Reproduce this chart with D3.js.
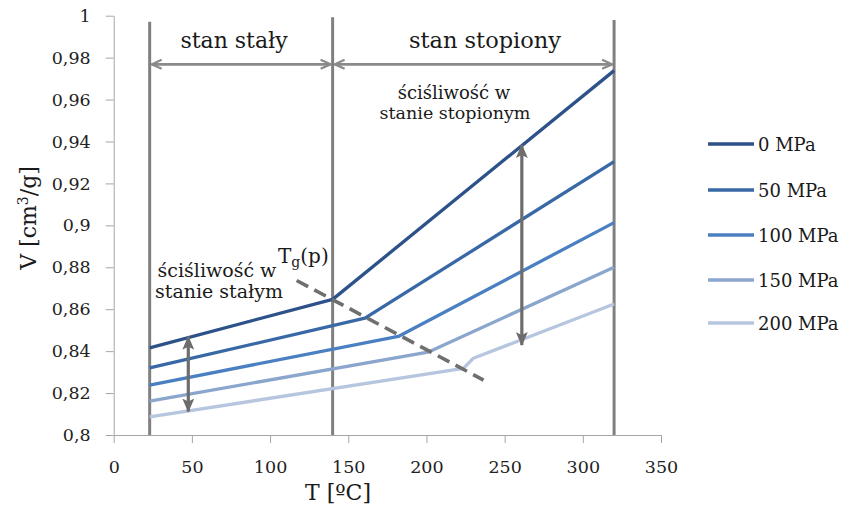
<!DOCTYPE html>
<html>
<head>
<meta charset="utf-8">
<script src="https://cdn.jsdelivr.net/npm/d3@7"></script>
<style>
  body { margin: 0; background: #fff; }
  svg { display: block; font-family: "DejaVu Serif", serif; }
  .axis path, .axis line { stroke: #a6a6a6; stroke-width: 1; }
  .axis text { fill: #222; font-size: 17.5px; font-family: "DejaVu Serif", serif; }
</style>
</head>
<body>
<script>
// pressure series
var seriesNames = ["0 MPa", "50 MPa", "100 MPa", "150 MPa", "200 MPa"];
var seriesColors = ["#2d5289", "#3868a5", "#4a80c2", "#8aa6cc", "#b6c6df"];

// T [C] and V [cm3/g] for each pressure
var temp0 = [23, 140, 320];
var vol0 = [0.8416, 0.8647, 0.9738];
var temp50 = [23, 160.7, 320];
var vol50 = [0.8320, 0.8557, 0.9304];
var temp100 = [23, 182, 320];
var vol100 = [0.8238, 0.8470, 0.9013];
var temp150 = [23, 201, 320];
var vol150 = [0.8162, 0.8395, 0.8800];
var temp200 = [23, 223.6, 230, 320];
var vol200 = [0.8086, 0.8318, 0.8366, 0.8625];

var xTicks = [0, 50, 100, 150, 200, 250, 300, 350];
var yTicks = [0.8, 0.82, 0.84, 0.86, 0.88, 0.9, 0.92, 0.94, 0.96, 0.98, 1];

// state boundaries (T) and the Tg(p) dashed line
var boundaries = [23, 140, 320];
var tgTemp = [117, 236.5];
var tgVol = [0.8737, 0.8262];

// compressibility arrows: [T, Vtop, Vbottom]
var compSolid = [47.7, 0.8469, 0.8112];
var compMelt = [261, 0.9383, 0.8429];
var stateArrowV = 0.9768;

var w = 851, h = 508;
var svg = d3.select("body").append("svg").attr("width", w).attr("height", h);

var x = d3.scaleLinear().domain([0, 350]).range([113.7, 661]);
var y = d3.scaleLinear().domain([0.8, 1]).range([435, 15.7]);

function fmt(v) { return String(+v.toFixed(2)).replace(".", ","); }

svg.append("g").attr("class", "axis")
  .attr("transform", "translate(" + x(0) + ",0)")
  .call(d3.axisLeft(y).tickValues(yTicks).tickFormat(fmt).tickSize(8).tickPadding(15).tickSizeOuter(0));

svg.append("g").attr("class", "axis")
  .attr("transform", "translate(0," + y(0.8) + ")")
  .call(d3.axisBottom(x).tickValues(xTicks).tickSize(8).tickPadding(18).tickSizeOuter(0));

// vertical boundary lines
var vTop = [21.7, 17.3, 20];
svg.selectAll(".bound").data(boundaries).enter().append("line")
  .attr("x1", function(d) { return x(d); }).attr("x2", function(d) { return x(d); })
  .attr("y1", function(d, i) { return vTop[i]; }).attr("y2", y(0.8))
  .attr("stroke", "#808080").attr("stroke-width", 3);

// series lines
var allTemps = [temp0, temp50, temp100, temp150, temp200];
var allVols = [vol0, vol50, vol100, vol150, vol200];
var line = d3.line().x(function(d) { return x(d[0]); }).y(function(d) { return y(d[1]); });

seriesNames.forEach(function(name, i) {
  var pts = allTemps[i].map(function(t, j) { return [t, allVols[i][j]]; });
  svg.append("path").datum(pts)
    .attr("d", line)
    .attr("fill", "none")
    .attr("stroke", seriesColors[i])
    .attr("stroke-width", 3.3)
    .attr("stroke-linejoin", "round");
});

// Tg(p) dashed line
svg.append("line")
  .attr("x1", x(tgTemp[0])).attr("y1", y(tgVol[0]))
  .attr("x2", x(tgTemp[1])).attr("y2", y(tgVol[1]))
  .attr("stroke", "#6f6f6f").attr("stroke-width", 3.6)
  .attr("stroke-dasharray", "13,7");

// arrowheads
var defs = svg.append("defs");
defs.append("marker").attr("id", "open").attr("viewBox", "0 0 12 12")
  .attr("refX", 11).attr("refY", 6).attr("markerWidth", 12).attr("markerHeight", 12)
  .attr("markerUnits", "userSpaceOnUse").attr("orient", "auto-start-reverse")
  .append("path").attr("d", "M1,1.5L11,6L1,10.5")
  .attr("fill", "none").attr("stroke", "#8a8a8a").attr("stroke-width", 2.2);
defs.append("marker").attr("id", "solid").attr("viewBox", "0 0 14 12")
  .attr("refX", 13).attr("refY", 6).attr("markerWidth", 14).attr("markerHeight", 12)
  .attr("markerUnits", "userSpaceOnUse").attr("orient", "auto-start-reverse")
  .append("path").attr("d", "M0,0L14,6L0,12L3,6Z").attr("fill", "#6d6d6d");

// state arrows at the top
[[boundaries[0], boundaries[1]], [boundaries[1], boundaries[2]]].forEach(function(seg) {
  svg.append("line")
    .attr("x1", x(seg[0]) + 2).attr("x2", x(seg[1]) - 2)
    .attr("y1", y(stateArrowV)).attr("y2", y(stateArrowV))
    .attr("stroke", "#8a8a8a").attr("stroke-width", 2.6)
    .attr("marker-start", "url(#open)").attr("marker-end", "url(#open)");
});

// compressibility arrows
[compSolid, compMelt].forEach(function(a) {
  svg.append("line")
    .attr("x1", x(a[0])).attr("x2", x(a[0]))
    .attr("y1", y(a[1])).attr("y2", y(a[2]))
    .attr("stroke", "#6d6d6d").attr("stroke-width", 3.2)
    .attr("marker-start", "url(#solid)").attr("marker-end", "url(#solid)");
});

// labels
function label(txt, cx, cy, size, anchor) {
  return svg.append("text").attr("x", cx).attr("y", cy)
    .attr("text-anchor", anchor || "middle").attr("dominant-baseline", "central")
    .attr("font-size", size).attr("fill", "#1a1a1a").text(txt);
}
label("stan stały", 234, 40, 22);
label("stan stopiony", 485, 40, 22.5);
label("ściśliwość w", 454, 92, 18);
label("stanie stopionym", 455, 113, 17.5);
label("ściśliwość w", 217, 270, 19);
label("stanie stałym", 219, 291, 19);

var tg = svg.append("text").attr("x", 278).attr("y", 263).attr("font-size", 20).attr("fill", "#1a1a1a");
tg.append("tspan").text("T");
tg.append("tspan").attr("font-size", 14).attr("dy", 4).text("g");
tg.append("tspan").attr("dy", -4).text("(p)");

// axis titles
var yt = svg.append("text").attr("transform", "translate(36,218) rotate(-90)")
  .attr("text-anchor", "middle").attr("font-size", 22).attr("fill", "#1a1a1a");
yt.append("tspan").text("V [cm");
yt.append("tspan").attr("font-size", 14).attr("dy", -8).text("3");
yt.append("tspan").attr("dy", 8).text("/g]");

svg.append("text").attr("x", 338).attr("y", 500).attr("text-anchor", "middle")
  .attr("font-size", 22).attr("fill", "#1a1a1a").text("T [ºC]");

// legend
var legendY = [144, 190, 235, 280, 323];
var lg = svg.selectAll(".leg").data(seriesNames).enter().append("g")
  .attr("transform", function(d, i) { return "translate(708," + legendY[i] + ")"; });
lg.append("line").attr("x1", 0).attr("x2", 46).attr("y1", 0).attr("y2", 0)
  .attr("stroke", function(d, i) { return seriesColors[i]; }).attr("stroke-width", 3.3);
lg.append("text").attr("x", 50).attr("y", 0).attr("dominant-baseline", "central")
  .attr("font-size", 18).attr("fill", "#1a1a1a").text(function(d) { return d; });
</script>
</body>
</html>
